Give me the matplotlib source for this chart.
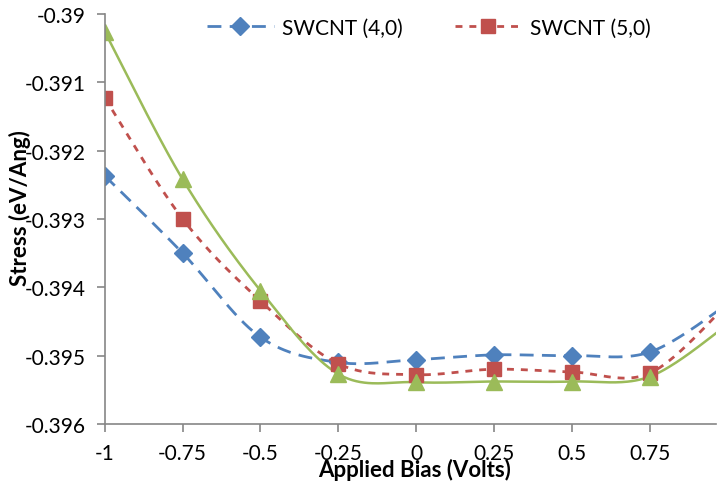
import matplotlib.pyplot as plt
import numpy as np

bias = [-1, -0.75, -0.5, -0.25, 0, 0.25, 0.5, 0.75, 1]
swcnt_40 = [-0.39237, -0.39350, -0.39473, -0.39510, -0.39506, -0.39499, -0.39500, -0.39495, -0.39425]
swcnt_50 = [-0.39123, -0.39300, -0.39420, -0.39512, -0.39528, -0.39520, -0.39524, -0.39526, -0.39425]
swcnt_3 = [-0.39026, -0.39242, -0.39405, -0.39527, -0.39539, -0.39538, -0.39538, -0.39531, -0.39455]
x_ticks = [-1, -0.75, -0.5, -0.25, 0, 0.25, 0.5, 0.75]
y_ticks = [-0.39, -0.391, -0.392, -0.393, -0.394, -0.395, -0.396]


# excel-style smoothed line (catmull-rom as bezier segments)
def smooth(x, y, n=40):
    p = np.column_stack([x, y])
    p = np.vstack([p[0], p, p[-1]])
    out = []
    t = np.linspace(0, 1, n)[:, None]
    for i in range(1, len(p) - 2):
        p0, p3 = p[i], p[i + 1]
        c1 = p0 + (p[i + 1] - p[i - 1]) / 6
        c2 = p3 - (p[i + 2] - p[i]) / 6
        seg = (1 - t) ** 3 * p0 + 3 * (1 - t) ** 2 * t * c1 + 3 * (1 - t) * t ** 2 * c2 + t ** 3 * p3
        out.append(seg)
    s = np.vstack(out)
    return s[:, 0], s[:, 1]


plt.rcParams['font.family'] = ['Lato', 'DejaVu Sans']
fig = plt.figure(figsize=(7.18, 4.85), dpi=100)
ax = fig.add_axes([0.146, 0.124, 0.851, 0.845])

blue, red, green = '#4F81BD', '#C0504D', '#9BBB59'
sx, sy = smooth(bias, swcnt_40)
ax.plot(sx, sy, color=blue, lw=2, dashes=(5, 3))
sx, sy = smooth(bias, swcnt_50)
ax.plot(sx, sy, color=red, lw=2, dashes=(2.5, 2.5))
sx, sy = smooth(bias, swcnt_3)
ax.plot(sx, sy, color=green, lw=1.8)

ax.plot(bias, swcnt_40, 'D', color=blue, ms=9)
ax.plot(bias, swcnt_50, 's', color=red, ms=10)
ax.plot(bias, swcnt_3, '^', color=green, ms=11)

# legend handles
h1, = ax.plot([], [], color=blue, lw=2, dashes=(5, 3), marker='D', ms=9)
h2, = ax.plot([], [], color=red, lw=2, dashes=(2.5, 2.5), marker='s', ms=10)
ax.legend([h1, h2], ['SWCNT (4,0)', 'SWCNT (5,0)'], ncol=2, frameon=False,
          fontsize=15, handlelength=3.2, columnspacing=2.5, handletextpad=0.4,
          loc='upper left', bbox_to_anchor=(0.262, 1.0), bbox_transform=fig.transFigure)

ax.set_xlim(-1, 0.963)
ax.set_ylim(-0.396, -0.39)
ax.set_xticks(x_ticks)
ax.set_xticklabels([f'{v:g}' for v in x_ticks])
ax.set_yticks(y_ticks)
ax.set_yticklabels([f'{v:g}' for v in y_ticks])

for s in ['top', 'right']:
    ax.spines[s].set_visible(False)
for s in ['left', 'bottom']:
    ax.spines[s].set_color('#868686')
    ax.spines[s].set_linewidth(1.2)
ax.tick_params(direction='out', length=6, width=1.2, color='#868686', labelsize=15, pad=8)

fig.text(0.028, 0.572, 'Stress (eV/Ang)', rotation=90, ha='center', va='center',
         fontsize=16, fontweight='bold')
fig.text(0.578, 0.031, 'Applied Bias (Volts)', ha='center', va='center',
         fontsize=16, fontweight='bold')

fig.savefig('out.png', dpi=100)
